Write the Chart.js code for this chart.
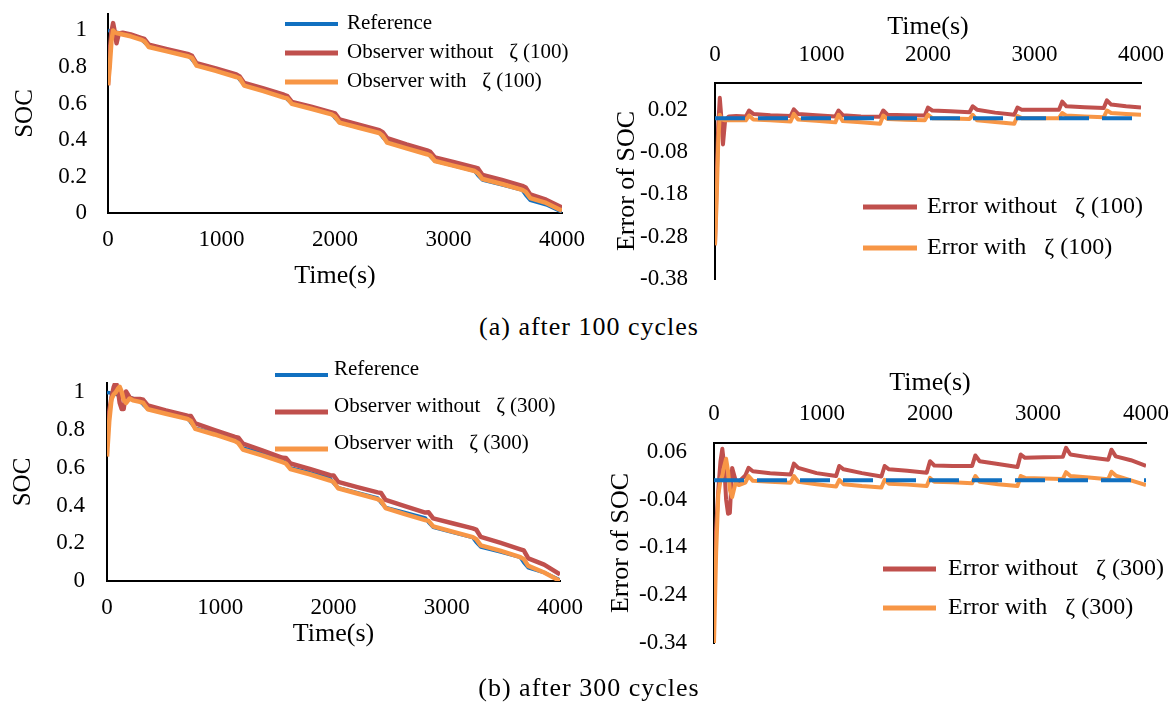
<!DOCTYPE html>
<html><head><meta charset="utf-8">
<script src="https://cdn.jsdelivr.net/npm/chart.js@4.4.1/dist/chart.umd.min.js"></script>
<style>
html,body{margin:0;padding:0;background:#fff;}
body{width:1174px;height:704px;position:relative;overflow:hidden;}
.box{position:absolute;}
.box canvas{display:block;}
.cap{position:absolute;font-family:"Liberation Serif","Times New Roman",serif;font-size:26px;letter-spacing:1px;color:#000;white-space:pre;transform:translate(-50%,-50%);z-index:5;}
</style></head><body>
<div class="box" style="left:0;top:0;width:590px;height:300px"><canvas id="cA" width="590" height="300" style="width:590px;height:300px"></canvas></div>
<div class="box" style="left:590px;top:0;width:584px;height:300px"><canvas id="cC" width="584" height="300" style="width:584px;height:300px"></canvas></div>
<div class="box" style="left:0;top:350px;width:590px;height:354px"><canvas id="cB" width="590" height="354" style="width:590px;height:354px"></canvas></div>
<div class="box" style="left:590px;top:350px;width:584px;height:354px"><canvas id="cD" width="584" height="354" style="width:584px;height:354px"></canvas></div>
<div class="cap" style="left:589px;top:327px">(a) after 100 cycles</div>
<div class="cap" style="left:589px;top:688px">(b) after 300 cycles</div>
<script>
// ---------- tick values ----------
const timeTicks = [0, 1000, 2000, 3000, 4000];
const socTicks = [0, 0.2, 0.4, 0.6, 0.8, 1];
const errTicks100 = [-0.38, -0.28, -0.18, -0.08, 0.02];
const errTicks300 = [-0.34, -0.24, -0.14, -0.04, 0.06];

// ---------- after 100 cycles ----------
const time100 = [0,15,30,45,60,75,95,130,200,290,320,360,520,710,740,780,950,1130,1160,1200,1370,1550,1580,1620,1790,1970,2000,2040,2210,2390,2420,2460,2630,2810,2840,2880,3050,3230,3260,3300,3470,3650,3680,3720,3860,4000];
const socRef100 = [1.000,0.998,0.996,0.994,0.992,0.990,0.988,0.983,0.973,0.955,0.935,0.912,0.890,0.865,0.840,0.810,0.785,0.755,0.730,0.705,0.678,0.645,0.622,0.600,0.575,0.545,0.520,0.495,0.468,0.440,0.415,0.390,0.363,0.335,0.310,0.285,0.258,0.230,0.205,0.180,0.155,0.125,0.098,0.070,0.045,0.005];
const socWithout100 = [0.700,0.880,0.990,1.040,0.990,0.930,0.983,0.987,0.978,0.959,0.953,0.922,0.897,0.870,0.861,0.820,0.792,0.759,0.748,0.712,0.682,0.648,0.640,0.608,0.582,0.551,0.545,0.513,0.484,0.454,0.443,0.410,0.376,0.343,0.335,0.305,0.278,0.250,0.244,0.208,0.181,0.149,0.140,0.102,0.073,0.030];
const socWith100 = [0.700,0.800,0.940,1.000,0.990,0.986,0.983,0.978,0.968,0.950,0.941,0.909,0.885,0.857,0.850,0.807,0.779,0.745,0.738,0.698,0.668,0.632,0.628,0.598,0.571,0.540,0.528,0.495,0.467,0.438,0.423,0.385,0.354,0.322,0.315,0.285,0.258,0.230,0.217,0.186,0.159,0.127,0.116,0.082,0.055,0.013];
const errWithout100 = [-0.300,-0.150,-0.020,0.048,0.000,-0.062,-0.005,0.004,0.005,0.004,0.018,0.010,0.007,0.005,0.021,0.010,0.007,0.004,0.018,0.007,0.004,0.003,0.018,0.008,0.007,0.006,0.025,0.018,0.016,0.014,0.028,0.020,0.013,0.008,0.025,0.020,0.020,0.020,0.039,0.028,0.026,0.024,0.042,0.032,0.028,0.025];
const errWith100 = [-0.300,-0.200,-0.060,0.008,-0.002,-0.004,-0.005,-0.005,-0.005,-0.005,0.006,-0.003,-0.005,-0.008,0.010,-0.003,-0.006,-0.010,0.008,-0.007,-0.010,-0.013,0.006,-0.002,-0.004,-0.005,0.008,0.000,-0.001,-0.002,0.008,-0.005,-0.009,-0.013,0.005,0.000,0.000,0.000,0.012,0.006,0.004,0.002,0.018,0.012,0.010,0.008];

// ---------- after 300 cycles ----------
const time300 = [0,20,40,60,77,95,112,130,147,168,200,230,290,320,360,520,710,740,780,950,1130,1160,1200,1370,1550,1580,1620,1790,1970,2000,2040,2210,2390,2420,2460,2630,2810,2840,2880,3050,3230,3260,3300,3470,3650,3680,3720,3860,4000];
const socRef300 = [1.000,0.998,0.995,0.992,0.990,0.988,0.986,0.983,0.981,0.979,0.973,0.968,0.955,0.935,0.912,0.890,0.865,0.840,0.810,0.785,0.755,0.730,0.705,0.678,0.645,0.622,0.600,0.575,0.545,0.520,0.495,0.468,0.440,0.415,0.390,0.363,0.335,0.310,0.285,0.258,0.230,0.205,0.180,0.155,0.125,0.098,0.070,0.045,0.005];
const socWithout300 = [0.800,0.900,0.975,1.030,1.055,1.020,0.945,0.912,0.912,1.005,0.973,0.965,0.965,0.961,0.931,0.905,0.877,0.875,0.836,0.800,0.764,0.760,0.728,0.693,0.653,0.652,0.623,0.595,0.561,0.560,0.526,0.498,0.470,0.467,0.430,0.397,0.363,0.364,0.332,0.306,0.279,0.273,0.234,0.203,0.168,0.162,0.120,0.087,0.035];
const socWith300 = [0.660,0.850,0.965,0.990,1.000,1.018,1.030,1.003,0.961,0.944,0.968,0.958,0.950,0.944,0.911,0.887,0.860,0.849,0.807,0.777,0.742,0.731,0.697,0.666,0.630,0.623,0.593,0.566,0.533,0.525,0.492,0.464,0.434,0.424,0.387,0.355,0.323,0.319,0.290,0.262,0.233,0.222,0.189,0.161,0.127,0.116,0.080,0.045,0.000];
const errWithout300 = [-0.200,-0.100,-0.020,0.040,0.066,0.030,-0.040,-0.070,-0.068,0.026,0.000,-0.003,0.010,0.026,0.019,0.015,0.012,0.035,0.026,0.015,0.009,0.030,0.023,0.015,0.008,0.030,0.023,0.020,0.016,0.040,0.031,0.030,0.030,0.052,0.040,0.034,0.028,0.054,0.047,0.048,0.049,0.068,0.054,0.048,0.043,0.064,0.050,0.042,0.030];
const errWith300 = [-0.340,-0.150,-0.030,0.000,0.010,0.030,0.045,0.020,-0.020,-0.035,-0.005,-0.010,-0.005,0.009,-0.001,-0.003,-0.005,0.009,-0.003,-0.008,-0.013,0.001,-0.008,-0.012,-0.015,0.001,-0.007,-0.009,-0.012,0.005,-0.003,-0.004,-0.006,0.009,-0.003,-0.008,-0.012,0.009,0.005,0.004,0.003,0.017,0.009,0.006,0.002,0.018,0.010,0.000,-0.010];

// zero (reference) error line
const errRefTime = [0, 4000];
const errRef = [0, 0];

// ---------- labels ----------
const socLabels100 = ['Reference', 'Observer without   \u03B6 (100)', 'Observer with   \u03B6 (100)'];
const socLabels300 = ['Reference', 'Observer without   \u03B6 (300)', 'Observer with   \u03B6 (300)'];
const errLabels100 = ['Reference', 'Error without   \u03B6 (100)', 'Error with   \u03B6 (100)'];
const errLabels300 = ['Reference', 'Error without   \u03B6 (300)', 'Error with   \u03B6 (300)'];

// ---------- style ----------
const FONT = '"Liberation Serif", "Times New Roman", serif';
const BLUE = '#1170c0', RED = '#c0504d', ORANGE = '#f79646';

const pts = (xs, ys) => xs.map((x, i) => ({x: x, y: ys[i]}));

const overlayLegend = {
  id: 'overlayLegend',
  afterDatasetsDraw(chart, args, opts) {
    if (!opts || !opts.x) return;
    const ctx = chart.ctx;
    const items = chart.data.datasets.filter(d => d.inLegend).sort((a, b) => a.legendIndex - b.legendIndex);
    ctx.save();
    ctx.font = opts.fontSize + 'px ' + FONT;
    ctx.textBaseline = 'middle';
    ctx.textAlign = 'left';
    items.forEach((d, i) => {
      const y = opts.y + i * opts.gap;
      ctx.strokeStyle = d.borderColor;
      ctx.lineWidth = d.legendWidth;
      ctx.lineCap = 'butt';
      ctx.setLineDash([]);
      ctx.beginPath();
      ctx.moveTo(opts.x, y + opts.lineDy);
      ctx.lineTo(opts.x + opts.len, y + opts.lineDy);
      ctx.stroke();
      ctx.fillStyle = '#000';
      ctx.fillText(d.label, opts.textX, y);
    });
    ctx.restore();
  }
};

function xScale(pos, c) {
  return {
    type: 'linear', position: pos, min: 0, max: 4000,
    afterBuildTicks: s => { s.ticks = timeTicks.map(v => ({value: v})); },
    afterFit: s => { s.height = c.h; s.paddingLeft = 0; s.paddingRight = 0; },
    ticks: {font: {family: FONT, size: 23}, color: '#000', padding: c.tp, maxRotation: 0, autoSkip: false, callback: v => String(v)},
    grid: {display: false, drawTicks: false},
    border: {display: true, color: '#000', width: 2},
    title: {display: true, text: 'Time(s)', font: {family: FONT, size: 26}, color: '#000', padding: {top: c.ttop || 0, bottom: c.tbot || 0}}
  };
}
function yScale(c) {
  return {
    type: 'linear', position: 'left', min: c.min, max: c.max,
    afterBuildTicks: s => { s.ticks = c.ticks.map(v => ({value: v})); },
    afterFit: s => { s.width = c.w; s.paddingTop = 0; s.paddingBottom = 0; },
    ticks: {font: {family: FONT, size: 23}, color: '#000', padding: c.tp, callback: v => String(v)},
    grid: {display: false, drawTicks: false},
    border: {display: true, color: '#000', width: 2},
    title: {display: true, text: c.title, font: {family: FONT, size: c.tsize}, color: '#000', padding: {top: c.ttop, bottom: 0}}
  };
}

function socChart(id, t, ref, without, withZ, labels, geo) {
  return new Chart(document.getElementById(id), {
    type: 'line',
    data: {datasets: [
      {label: labels[2], data: pts(t, withZ), borderColor: ORANGE, borderWidth: 4.5, legendWidth: 5, pointRadius: 0, tension: 0, borderJoinStyle: 'round', order: 1, inLegend: true, legendIndex: 2},
      {label: labels[1], data: pts(t, without), borderColor: RED, borderWidth: 4.5, legendWidth: 5, pointRadius: 0, tension: 0, borderJoinStyle: 'round', order: 2, inLegend: true, legendIndex: 1},
      {label: labels[0], data: pts(t, ref), borderColor: BLUE, borderWidth: 3.5, legendWidth: 4, pointRadius: 0, tension: 0, borderJoinStyle: 'round', order: 3, inLegend: true, legendIndex: 0}
    ]},
    options: {
      responsive: false, animation: false, devicePixelRatio: 1,
      layout: {padding: geo.pad},
      plugins: {legend: {display: false}, tooltip: {enabled: false}, overlayLegend: geo.legend},
      scales: {x: xScale('bottom', geo.x), y: yScale(geo.y)}
    },
    plugins: [overlayLegend]
  });
}

function errChart(id, t, without, withZ, labels, geo) {
  return new Chart(document.getElementById(id), {
    type: 'line',
    data: {datasets: [
      {label: labels[0], data: pts(errRefTime, errRef), borderColor: BLUE, borderWidth: 4, borderDash: [30, 13], pointRadius: 0, tension: 0, order: 0, inLegend: false},
      {label: labels[2], data: pts(t, withZ), borderColor: ORANGE, borderWidth: 4, legendWidth: 5, pointRadius: 0, tension: 0, borderJoinStyle: 'round', order: 1, inLegend: true, legendIndex: 2},
      {label: labels[1], data: pts(t, without), borderColor: RED, borderWidth: 4, legendWidth: 5, pointRadius: 0, tension: 0, borderJoinStyle: 'round', order: 2, inLegend: true, legendIndex: 1}
    ]},
    options: {
      responsive: false, animation: false, devicePixelRatio: 1,
      layout: {padding: geo.pad},
      plugins: {legend: {display: false}, tooltip: {enabled: false}, overlayLegend: geo.legend},
      scales: {x: xScale('top', geo.x), y: yScale(geo.y)}
    },
    plugins: [overlayLegend]
  });
}

socChart('cA', time100, socRef100, socWithout100, socWith100, socLabels100, {
  pad: {left: 0, top: 14, right: 28, bottom: 0},
  x: {h: 87, tp: 13, tbot: 8},
  y: {min: 0, max: 1.09, ticks: socTicks, w: 108, tp: 21, title: 'SOC', tsize: 25, ttop: 10},
  legend: {x: 285, len: 53, textX: 347, y: 23, gap: 29, lineDy: 1, fontSize: 21}
});
socChart('cB', time300, socRef300, socWithout300, socWith300, socLabels300, {
  pad: {left: 0, top: 33, right: 30, bottom: 0},
  x: {h: 123, tp: 13, tbot: 54},
  y: {min: 0, max: 1.05, ticks: socTicks, w: 107, tp: 22, title: 'SOC', tsize: 25, ttop: 8},
  legend: {x: 275, len: 53, textX: 334, y: 19, gap: 37, lineDy: 6, fontSize: 21}
});
errChart('cC', time100, errWithout100, errWith100, errLabels100, {
  pad: {left: 0, top: 0, right: 33, bottom: 21},
  x: {h: 83, tp: 14, ttop: 12},
  y: {min: -0.38, max: 0.083, ticks: errTicks100, w: 125, tp: 27, title: 'Error of SOC', tsize: 26, ttop: 22},
  legend: {x: 273, len: 54, textX: 337, y: 207, gap: 41, lineDy: 0, fontSize: 24}
});
errChart('cD', time300, errWithout300, errWith300, errLabels300, {
  pad: {left: 0, top: 0, right: 28, bottom: 61},
  x: {h: 93, tp: 15, ttop: 18},
  y: {min: -0.34, max: 0.078, ticks: errTicks300, w: 124, tp: 27, title: 'Error of SOC', tsize: 26, ttop: 16},
  legend: {x: 293, len: 53, textX: 358, y: 219, gap: 39, lineDy: 0, fontSize: 24}
});
</script>
</body></html>
